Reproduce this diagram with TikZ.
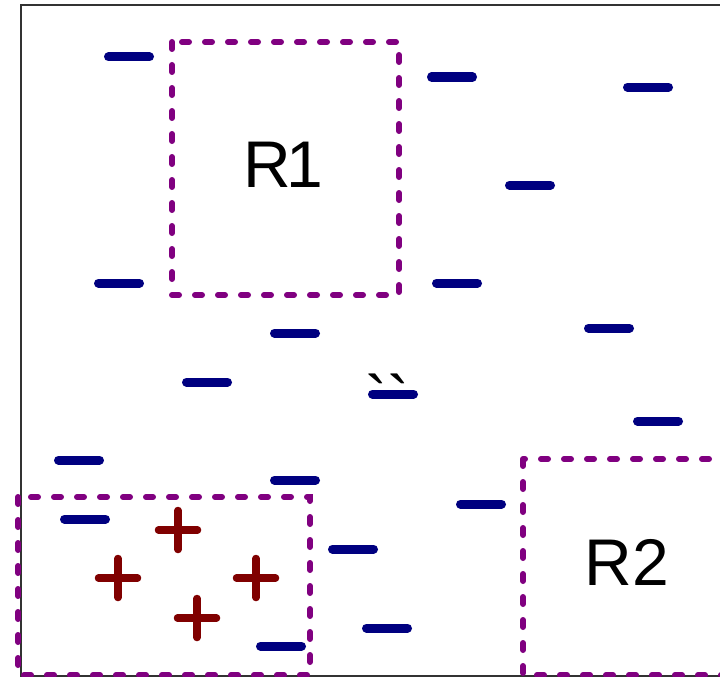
\documentclass[tikz,border=0pt]{standalone}
\usepackage{fontspec}
\setmainfont{Liberation Sans}
\newfontfamily\rawfont{Liberation Sans}[Ligatures=TeXOff]
\definecolor{negblue}{RGB}{0,0,128}
\definecolor{posred}{RGB}{128,0,0}
\definecolor{regpurple}{RGB}{128,0,128}
\definecolor{framegray}{RGB}{50,50,50}
\tikzset{
  framebox/.style={draw=framegray, line width=2pt},
  regionbox/.style={draw=regpurple, line width=6pt, line cap=round, dash pattern=on 7pt off 16pt},
  negmark/.style={draw=negblue, line width=9pt, line cap=round},
  posmark/.style={draw=posred, line width=7.5pt, line cap=round},
  lbl/.style={font=\fontsize{66}{70}\selectfont, inner sep=0pt},
  minusm/.pic={\path[negmark] (-20.5,0) -- (20.5,0);},
  plusm/.pic={\path[posmark] (-19.5,0) -- (19.5,0) (0,-19.5) -- (0,19.5);}
}
\begin{document}
\begin{tikzpicture}[x=1pt, y=-1pt]
\useasboundingbox (0,0) rectangle (720,677);
\clip (0,0) rectangle (720,677);
\fill[white] (0,0) rectangle (720,677);
\draw[framebox] (20.5,5.5) rectangle (740,675.5);
% regions
\draw[regionbox] (172,42) rectangle (399,295);
\draw[regionbox] (523,459) rectangle (745,675);
\draw[regionbox] (18,497) rectangle (310,675);
\node[lbl] (r1) at (283,164.5) {R\kern-5pt 1};
\node[lbl] (r2) at (627,562) {R2};
\node[lbl, anchor=north, font=\rawfont\fontsize{66}{70}\selectfont] (ticks) at (387,374) {``};
% negative marks
\foreach \x/\y in {129/57, 452/77, 648/87, 530/185, 119/283, 457/283, 295/333,
  609/328, 207/382, 393/394, 658/421, 79/460, 295/480, 85/519, 481/504,
  353/549, 387/628, 281/646}
  \pic at (\x,\y) {minusm};
% positive marks
\foreach \x/\y in {178/530, 118/578, 256/578, 197/618}
  \pic at (\x,\y) {plusm};
\end{tikzpicture}
\end{document}
